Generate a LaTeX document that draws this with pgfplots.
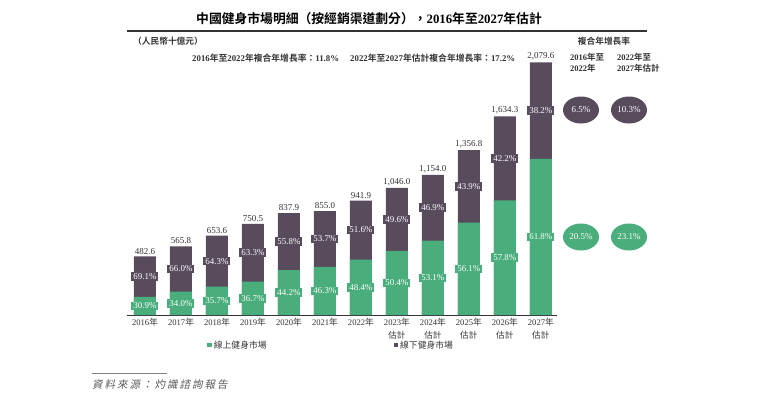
\documentclass[border=0pt]{standalone}
\usepackage{fontspec}
\setmainfont{Liberation Serif}
\newfontfamily\cjk{Noto Sans CJK TC}[BoldFont={Noto Sans CJK TC Bold}]
\newfontfamily\cjkit{Noto Sans CJK TC}[FakeSlant=0.2,LetterSpace=19]
\usepackage{pgfplots}
\pgfplotsset{compat=1.18}
\usepackage{pgfplotstable}
\usetikzlibrary{shapes.geometric}
\definecolor{gr}{HTML}{4AAD7C}
\definecolor{dk}{HTML}{574B5C}
\definecolor{tx}{HTML}{333333}
\newcommand\C[1]{{\cjk #1}}
\pgfplotstableread{
x total online pon poff
0 482.6 149.1 30.9 69.1
1 565.8 192.4 34.0 66.0
2 653.6 233.3 35.7 64.3
3 750.5 275.4 36.7 63.3
4 837.9 370.4 44.2 55.8
5 855.0 395.9 46.3 53.7
6 941.9 455.9 48.4 51.6
7 1046.0 527.2 50.4 49.6
8 1154.0 612.8 53.1 46.9
9 1356.8 761.2 56.1 43.9
10 1634.3 944.6 57.8 42.2
11 2079.6 1285.2 61.8 38.2
}\data
\begin{document}
\begin{tikzpicture}
\useasboundingbox (0,0) rectangle (781pt,-397pt);
% title and headers
\node[font=\fontsize{12.8}{14}\selectfont\bfseries, text=black] at (369pt,-19pt)
  {\C{中國健身市場明細（按經銷渠道劃分），}2016\C{年至}2027\C{年估計}};
\draw[tx, line width=1.1pt] (127pt,-31pt) -- (647pt,-31pt);
\node[font=\fontsize{8.7}{10}\selectfont\bfseries, text=tx, anchor=west, inner sep=0pt] at (133pt,-41pt)
  {\C{（人民幣十億元）}};
\node[font=\fontsize{8.8}{10}\selectfont\bfseries, text=tx, anchor=west, inner sep=0pt] at (192pt,-58pt)
  {2016\C{年至}2022\C{年複合年增長率：}11.8\%};
\node[font=\fontsize{8.8}{10}\selectfont\bfseries, text=tx, anchor=west, inner sep=0pt] at (350pt,-58pt)
  {2022\C{年至}2027\C{年估計複合年增長率：}17.2\%};
\node[font=\fontsize{8.7}{10}\selectfont\bfseries, text=tx] at (604pt,-41pt) {\C{複合年增長率}};
\node[font=\fontsize{8.5}{11.5}\selectfont\bfseries, text=tx, anchor=north west, align=left, inner sep=0pt] at (570pt,-53pt)
  {2016\C{年至}\\2022\C{年}};
\node[font=\fontsize{8.5}{11.5}\selectfont\bfseries, text=tx, anchor=north west, align=left, inner sep=0pt] at (617pt,-53pt)
  {2022\C{年至}\\2027\C{年估計}};
% CAGR ellipses
\tikzset{cg/.style={ellipse, minimum width=36pt, minimum height=27pt, inner sep=0pt, text=white, font=\fontsize{9}{10}\selectfont}}
\node[cg, fill=dk] at (581pt,-110pt) {6.5\%};
\node[cg, fill=dk] at (629pt,-110pt) {10.3\%};
\node[cg, fill=gr] at (581pt,-237pt) {20.5\%};
\node[cg, fill=gr] at (629pt,-237pt) {23.1\%};
% source
\draw[gray, line width=0.8pt] (92pt,-373pt) -- (167pt,-373pt);
\node[font=\fontsize{10.5}{12}\selectfont, text=black!65, anchor=west, inner sep=0pt] at (92pt,-385pt)
  {\cjkit 資料來源：灼識諮詢報告};
\begin{axis}[
  at={(127pt,-315pt)}, anchor=south west, scale only axis,
  width=430pt, height=255pt,
  xmin=-0.5, xmax=11.45, ymin=0, ymax=2099,
  axis x line=bottom, axis y line=none,
  x axis line style={-, draw=tx, line width=0.9pt},
  xtick={0,...,11}, major tick length=0pt,
  xticklabels={2016\C{年},2017\C{年},2018\C{年},2019\C{年},2020\C{年},2021\C{年},2022\C{年},
    2023\C{年}\\\C{估計},2024\C{年}\\\C{估計},2025\C{年}\\\C{估計},2026\C{年}\\\C{估計},2027\C{年}\\\C{估計}},
  xticklabel style={align=center, font=\fontsize{8.6}{12.5}\selectfont, text=tx, anchor=north, inner sep=0pt, yshift=-3.5pt},
  clip=false,
  legend style={at={(0.1865,-0.118)}, anchor=west, draw=none, fill=none, inner sep=0pt,
    legend columns=2, font=\fontsize{8.8}{10}\selectfont, text=tx,
    /tikz/every even column/.append style={column sep=125pt}},
  legend image code/.code={\fill[#1] (0pt,-2pt) rectangle (4.5pt,2.5pt);},
]
\addplot[ybar, bar width=22pt, fill=dk, draw=none, forget plot] table[x=x, y=total] {\data};
\addplot[ybar, bar width=22pt, fill=gr, draw=none, forget plot] table[x=x, y=online] {\data};
% percentage labels
\addplot[draw=none, mark=none, forget plot, nodes near coords={\pgfplotspointmeta\%}, point meta=explicit symbolic,
  nodes near coords style={anchor=center, fill=gr, text=white, inner xsep=2pt, inner ysep=1.2pt, font=\fontsize{8.9}{9}\selectfont}]
  table[x=x, y expr={\thisrow{online}/2}, meta=pon] {\data};
\addplot[draw=none, mark=none, forget plot, nodes near coords={\pgfplotspointmeta\%}, point meta=explicit symbolic,
  nodes near coords style={anchor=center, fill=dk, text=white, inner xsep=2pt, inner ysep=1.2pt, font=\fontsize{8.9}{9}\selectfont}]
  table[x=x, y expr={(\thisrow{online}+\thisrow{total})/2}, meta=poff] {\data};
% totals
\addplot[draw=none, mark=none, forget plot, point meta=explicit,
  nodes near coords={\pgfmathprintnumber[fixed,fixed zerofill,precision=1,1000 sep={,},assume math mode=true]{\pgfplotspointmeta}},
  nodes near coords style={anchor=south, text=tx, inner sep=2pt, font=\fontsize{9}{10}\selectfont}]
  table[x=x, y=total, meta=total] {\data};
\addlegendimage{fill=gr, draw=none}
\addlegendentry{\C{線上健身市場}}
\addlegendimage{fill=dk, draw=none}
\addlegendentry{\C{線下健身市場}}
\end{axis}
\end{tikzpicture}
\end{document}
